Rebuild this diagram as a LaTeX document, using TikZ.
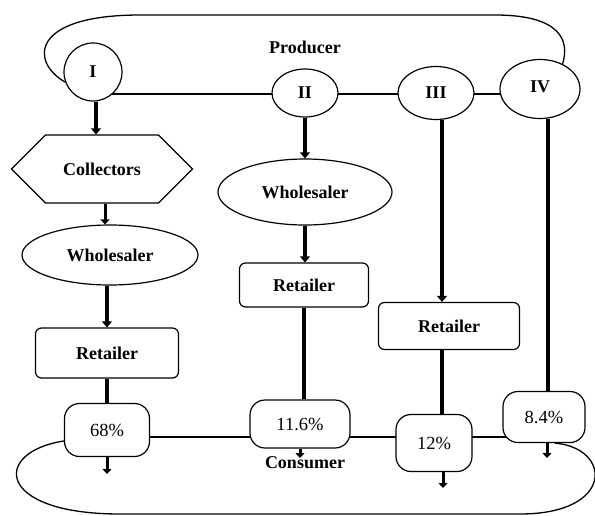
\documentclass[tikz,border=0pt]{standalone}
\usepackage{fontspec}
\setmainfont{Liberation Serif}
\usetikzlibrary{shapes.geometric,shapes.symbols,arrows.meta,backgrounds}
\begin{document}
\begin{tikzpicture}[x=1pt,y=-1pt,
  base/.style={draw=black,line width=1.2pt,fill=white,inner sep=0pt,font=\fontsize{18}{20}\selectfont\bfseries},
  circ/.style={base,circle},
  ell/.style={base,ellipse},
  rbox/.style={base,rectangle,rounded corners=6pt},
  pct/.style={base,rectangle,rounded corners=15pt,font=\fontsize{18.5}{20}\selectfont},
  hexa/.style={base,signal,signal to=west and east,signal pointer angle=90},
  thin line/.style={line width=1.3pt},
  thk/.style={line width=3.6pt},
  thkarr/.style={line width=3.6pt,-{Triangle[width=10pt,length=6pt]}},
  smallarr/.style={line width=3pt,-{Triangle[width=9pt,length=5pt]}},
  lbl/.style={font=\fontsize{18}{20}\selectfont\bfseries}]
\useasboundingbox (0,0) rectangle (595,515);

% top row
\node[circ,minimum size=58pt] (I) at (93,72) {I};
\node[ell,minimum width=66pt,minimum height=48pt] (II) at (305,93) {II};
\node[ell,minimum width=76pt,minimum height=53pt] (III) at (436,93) {III};
\node[ell,minimum width=80pt,minimum height=59pt] (IV) at (540,89) {\raisebox{4pt}{IV}};
\node[lbl] (prod) at (305,47) {Producer};

% column I
\node[hexa,minimum width=181pt,minimum height=68pt] (coll) at (102,169) {Collectors};
\node[ell,minimum width=176pt,minimum height=60pt] (w1) at (110,255) {Wholesaler};
\node[rbox,minimum width=143pt,minimum height=50pt] (r1) at (107,353) {Retailer};

% column II
\node[ell,minimum width=174pt,minimum height=66pt] (w2) at (305,192) {Wholesaler};
\node[rbox,minimum width=129pt,minimum height=44pt] (r2) at (304,285) {Retailer};

% column III
\node[rbox,minimum width=141pt,minimum height=47pt] (r3) at (449,326) {Retailer};

% percentages
\node[pct,minimum width=85pt,minimum height=53pt] (p68) at (107,430) {68\%};
\node[pct,minimum width=100pt,minimum height=48pt] (p116) at (300,424) {11.6\%};
\node[pct,minimum width=76pt,minimum height=57pt] (p12) at (434,443) {12\%};
\node[pct,minimum width=82pt,minimum height=51pt] (p84) at (544,417) {8.4\%};
\node[lbl] (cons) at (305,463) {Consumer};

% helper coordinates
\coordinate (tl) at (0,94);
\coordinate (bl) at (0,437);
\coordinate (e68) at (107,474);
\coordinate (e116) at (300,458);
\coordinate (e12) at (443,488);
\coordinate (e84) at (547,458);
\coordinate (x3) at (442,0);
\coordinate (x4) at (548,0);

\begin{scope}[on background layer]
  \draw[thin line] (I |- tl) -- (II |- tl) -- (III |- tl) -- (IV |- tl);
  \draw[thin line] (p68 |- bl) -- (p116 |- bl) -- (p12 |- bl) -- (p84 |- bl);
\end{scope}

% loops
\draw[thin line] (I.200) .. controls (30,62) and (30,15) .. (140,15) -- (495,15)
  .. controls (560,15) and (570,40) .. (IV.48);
\draw[thin line] ([yshift=-11pt]p68.west) .. controls (-8,452) and (-5,514) .. (120,514)
  -- (520,514) .. controls (615,514) and (612,448) .. ([xshift=11pt]p84.south);

% column I arrows
\draw[thkarr] ([xshift=3pt]I.south) -- ([xshift=3pt]I.south |- coll.north);
\draw[smallarr] ([xshift=3pt]coll.south) -- ([xshift=3pt]coll.south |- w1.north);
\draw[thkarr] (w1.south -| r1.north) -- (r1.north);
\draw[thk] (r1.south) -- (p68.north);
\draw[smallarr] (p68.south) -- (e68);

% column II
\draw[thkarr] (II.south) -- (w2.north);
\draw[thkarr] (w2.south) -- (w2.south |- r2.north);
\draw[thk] (r2.south) -- (r2.south |- p116.north);
\draw[smallarr] (p116.south) -- (e116);

% column III
\draw[thkarr] (III.south -| x3) -- (r3.north -| x3);
\draw[thk] (r3.south -| x3) -- (p12.north -| x3);
\draw[smallarr] (p12.south -| e12) -- (e12);

% column IV
\draw[thk] (IV.south -| x4) -- (p84.north -| x4);
\draw[smallarr] (p84.south -| e84) -- (e84);
\end{tikzpicture}
\end{document}
